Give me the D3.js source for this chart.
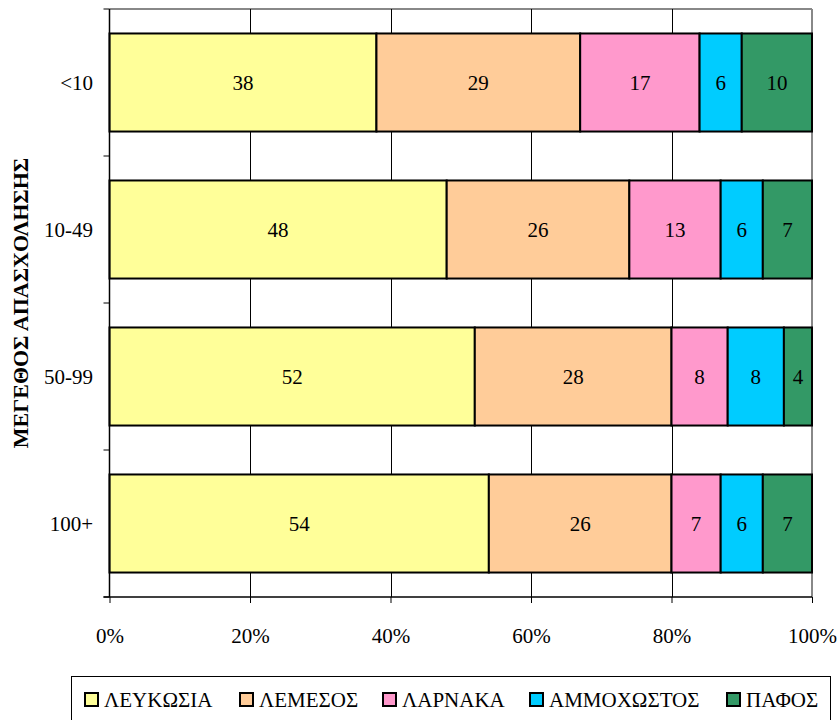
<!DOCTYPE html>
<html><head><meta charset="utf-8">
<script src="https://cdn.jsdelivr.net/npm/d3@7"></script>
<style>body{margin:0;background:#fff}svg{display:block}</style>
</head><body><svg id="c" width="840" height="720"></svg>
<script>
const categories = ["<10","10-49","50-99","100+"];
const seriesNames = ["ΛΕΥΚΩΣΙΑ","ΛΕΜΕΣΟΣ","ΛΑΡΝΑΚΑ","ΑΜΜΟΧΩΣΤΟΣ","ΠΑΦΟΣ"];
const lefkosia   = [38,48,52,54];
const lemesos    = [29,26,28,26];
const larnaka    = [17,13,8,7];
const ammochostos= [6,6,8,6];
const pafos      = [10,7,4,7];
const xTicks = [0,20,40,60,80,100];
const colors = ["#FFFF99","#FFCC99","#FF99CC","#00CCFF","#339966"];
const yTitle = "ΜΕΓΕΘΟΣ ΑΠΑΣΧΟΛΗΣΗΣ";
const FONT = "'Liberation Serif', 'Times New Roman', serif";

const seriesVals = [lefkosia,lemesos,larnaka,ammochostos,pafos];
const rows = categories.map((c,i)=>{const o={cat:c};seriesNames.forEach((s,j)=>o[s]=seriesVals[j][i]);return o;});
const stack = d3.stack().keys(seriesNames)(rows);

const svg = d3.select("#c").style("font-family",FONT);
const L=109.5,R=812,T=9,B=597;
const x = d3.scaleLinear().domain([0,100]).range([L,R]);
const y = d3.scaleBand().domain(categories).range([T,B]).paddingInner(0.333).paddingOuter(0.1665);
const band = d3.scaleBand().domain(categories).range([T,B]);

// frame top/right gray
svg.append("line").attr("x1",L).attr("x2",R).attr("y1",T).attr("y2",T).attr("stroke","#888").attr("stroke-width",2);
svg.append("line").attr("x1",R).attr("x2",R).attr("y1",T).attr("y2",B).attr("stroke","#888").attr("stroke-width",2);

// gridlines
svg.append("g").selectAll("line").data(xTicks.slice(1,-1)).join("line")
  .attr("x1",d=>Math.round(x(d))+0.5).attr("x2",d=>Math.round(x(d))+0.5).attr("y1",T).attr("y2",B)
  .attr("stroke","#000").attr("stroke-width",1);

// bars
svg.append("g").selectAll("g").data(stack).join("g").attr("fill",(d,i)=>colors[i])
  .selectAll("rect").data(d=>d).join("rect")
  .attr("x",d=>x(d[0])).attr("width",d=>x(d[1])-x(d[0]))
  .attr("y",d=>y(d.data.cat)).attr("height",y.bandwidth())
  .attr("stroke","#000").attr("stroke-width",2);

// labels
svg.append("g").selectAll("g").data(stack).join("g")
  .selectAll("text").data(d=>d.map(v=>({v,key:d.key}))).join("text")
  .attr("x",d=>(x(d.v[0])+x(d.v[1]))/2).attr("y",d=>y(d.v.data.cat)+y.bandwidth()/2)
  .attr("text-anchor","middle").attr("dominant-baseline","central")
  .style("font-family",FONT).attr("font-size",21).attr("fill","#000").text(d=>d.v.data[d.key]);

// x axis
const xa = svg.append("g").attr("transform",`translate(0,${B})`)
  .call(d3.axisBottom(x).tickValues(xTicks).tickFormat(d=>d+"%").tickSize(6).tickPadding(25).tickSizeOuter(0));
xa.select(".domain").remove();
xa.selectAll("line").attr("stroke","#000");
xa.selectAll("text").style("font-family",FONT).attr("font-size",21).attr("fill","#000");
svg.append("line").attr("x1",L-6).attr("x2",R).attr("y1",B).attr("y2",B).attr("stroke","#000").attr("stroke-width",1.5);

// y axis
svg.append("line").attr("x1",L).attr("x2",L).attr("y1",T).attr("y2",B).attr("stroke","#000").attr("stroke-width",1.5);
svg.append("g").selectAll("line").data(categories.concat(["end"])).join("line")
  .attr("x1",L-6).attr("x2",L).attr("y1",(d,i)=>i<categories.length?band(d):B).attr("y2",(d,i)=>i<categories.length?band(d):B)
  .attr("stroke","#000");
svg.append("g").selectAll("text").data(categories).join("text")
  .attr("x",93).attr("y",d=>y(d)+y.bandwidth()/2).attr("text-anchor","end").attr("dominant-baseline","central")
  .style("font-family",FONT).attr("font-size",21).text(d=>d);

svg.append("text").attr("transform",`translate(20,303) rotate(-90)`).attr("text-anchor","middle")
  .attr("dominant-baseline","central").style("font-family",FONT).attr("font-size",22).attr("font-weight","bold").text(yTitle);

// legend
const lg = svg.append("g");
lg.append("rect").attr("x",71.5).attr("y",676.5).attr("width",759).attr("height",60).attr("fill","none").attr("stroke","#000").attr("stroke-width",1);
const legX = [85,240,383,530,727];
const items = lg.selectAll("g").data(seriesNames).join("g").attr("transform",(d,i)=>`translate(${legX[i]},700)`);
items.append("rect").attr("x",0).attr("y",-7).attr("width",13).attr("height",13).attr("fill",(d,i)=>colors[i]).attr("stroke","#000").attr("stroke-width",2);
items.append("text").attr("x",19).attr("y",0).attr("dominant-baseline","central").style("font-family",FONT).attr("font-size",21).text(d=>d);
</script></body></html>
